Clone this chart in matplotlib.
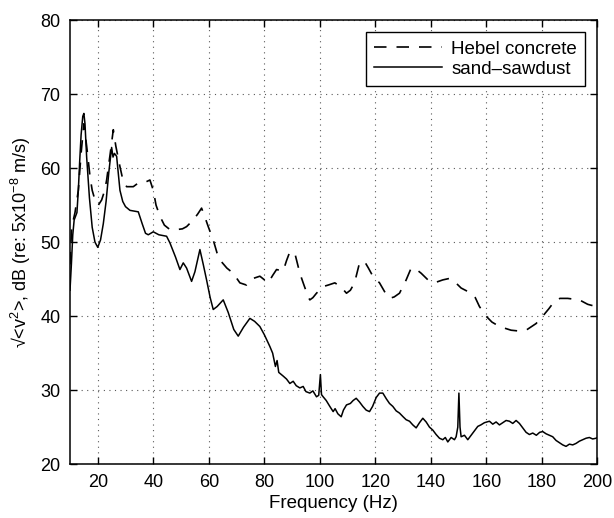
import matplotlib
matplotlib.use('Agg')
import matplotlib.pyplot as plt

# ── data ─────────────────────────────────────────────────────────────────────
sand_f = [10, 10.5, 11, 11.5, 12, 12.5, 13, 13.5, 14, 14.6, 15, 15.4, 16, 17, 18, 19,
          20, 21, 22, 23, 24, 25, 25.5, 26, 26.8, 27.5, 28, 29, 30, 31.6, 33, 34.6,
          36, 37.2, 38.2, 40, 42, 44.8, 46, 48, 49.6, 50.8, 52, 53.8, 55, 56.8, 58,
          59.2, 60.5, 61.6, 63, 65.2, 67, 69, 70.6, 72.5, 74.8, 76.5, 78.4, 80, 82,
          83, 84, 84.6, 85.2, 86.8, 88, 89.2, 90.4, 91.5, 92.8, 94, 95, 96.4, 97.5,
          98.8, 99.6, 100.2, 100.6, 101.2, 102.3, 103.6, 104.8, 105.5, 106.5, 107.7,
          108.5, 109.6, 111, 112, 113.1, 114.3, 115.5, 116.7, 117.9, 119, 120.3,
          121.5, 122.7, 124, 125.1, 126.3, 127.5, 128.7, 130, 131.1, 132.3, 133.5,
          134.7, 135.9, 137.1, 138.3, 139.5, 140.7, 141.9, 143.1, 144.3, 145.2,
          146.1, 147.3, 148.5, 149.1, 149.7, 150.1, 150.5, 150.9, 152.1, 153.3,
          154.5, 155.7, 156.9, 158, 159.3, 161.1, 162.3, 163.5, 164.7, 165.9, 167.1,
          168.3, 169.5, 170.7, 171.9, 173.1, 174.3, 175.5, 176.7, 178, 179.2, 180.3,
          181.5, 182.7, 183.9, 185.1, 186.3, 187.5, 188.7, 189.9, 191.1, 192.3,
          193.5, 194.7, 195.9, 197.1, 198.3, 199.5, 200]
sand_db = [43.5, 47, 51, 53, 53.5, 54, 57, 61, 64.5, 67, 67.4, 66, 61.5, 56, 52, 50,
           49.3, 50.3, 52.5, 55.5, 59.5, 62.8, 61.5, 62, 61.6, 59, 57, 55.5, 54.8,
           54.3, 54.2, 54.1, 52.5, 51.2, 51, 51.4, 51, 50.8, 49.9, 48, 46.3, 47.2,
           46.5, 44.7, 46, 49, 47, 44.9, 42.5, 40.9, 41.3, 42.2, 40.5, 38.2, 37.3,
           38.5, 39.7, 39.3, 38.6, 37.5, 35.9, 35, 33.2, 34, 32.4, 31.9, 31.5, 30.9,
           31.2, 30.6, 30.3, 30.5, 29.8, 29.6, 29.9, 29.1, 29.3, 32.1, 29.4, 29.1,
           28.6, 27.8, 27.1, 27.5, 26.8, 26.4, 27.3, 28, 28.2, 28.6, 28.9, 28.4,
           27.8, 27.3, 27.1, 27.8, 29, 29.6, 29.6, 28.8, 28.2, 27.8, 27.2, 26.9,
           26.4, 26, 25.8, 25.3, 24.9, 25.6, 26.2, 25.7, 25, 24.6, 24, 23.5, 23.3,
           23.6, 23, 23.6, 23.3, 23.7, 25, 29.6, 25, 23.7, 23.9, 23.3, 23.9, 24.5,
           25.1, 25.3, 25.6, 25.8, 25.4, 25.7, 25.3, 25.6, 25.9, 25.8, 25.5, 25.9,
           25.5, 24.9, 24.3, 24, 24.2, 23.9, 24.3, 24.4, 24.1, 23.9, 23.7, 23.2,
           22.9, 22.6, 22.4, 22.7, 22.6, 22.8, 23.1, 23.3, 23.5, 23.6, 23.4, 23.5,
           23.6]

hebel_f = [10, 10.6, 11.8, 13, 14, 15, 16, 17.2, 18, 19, 20.2, 21.4, 22.5, 23.2, 24.5,
           25.6, 26.5, 28, 29, 30.4, 32.8, 34.6, 36.5, 38.8, 40, 41, 42.4, 44, 46,
           48.4, 50.5, 52, 54.4, 56, 57.4, 58.5, 59.8, 61.6, 63, 64, 66.5, 68.8,
           71.2, 73.6, 76, 78.4, 81.4, 83, 84.4, 86.8, 88, 89.2, 91, 92.8, 94, 95.8,
           96.4, 97.5, 98.8, 101.2, 103, 105.4, 107.5, 109.6, 111, 112.5, 114.3,
           116.1, 117.5, 119.1, 121.5, 123.5, 125.1, 126.8, 128.7, 131.1, 132.9,
           134.5, 136.5, 139.5, 142, 144.3, 146.7, 147.9, 150.9, 154.5, 156, 157.5,
           159.9, 162, 164.7, 168.9, 171.5, 174.3, 177.9, 180.3, 182.5, 184.5,
           186.5, 189.3, 193.5, 196.5, 199.5, 200]
hebel_db = [47, 52, 54, 57, 62, 66, 63, 58.9, 57, 55.7, 55, 55.7, 57, 58.4, 62, 65.2,
            63, 60.2, 58.5, 57.5, 57.5, 58, 58, 58.4, 57, 55, 53.5, 52.3, 51.7, 51.7,
            51.8, 52.1, 53, 53.8, 54.6, 53.5, 52.1, 50.3, 48.5, 47.6, 46.5, 45.8,
            44.5, 44.2, 45.1, 45.4, 44.5, 45.5, 46.3, 46.1, 47.5, 48.7, 48.5, 45.8,
            44.5, 42.6, 42.2, 42.5, 43.1, 44, 44.2, 44.5, 44, 43.1, 43.5, 44.5, 47.2,
            47.4, 46.5, 45.4, 44.5, 43.2, 42.4, 42.6, 43.1, 44.9, 46.5, 46.4, 45.8,
            44.7, 44.6, 44.9, 45.1, 44.9, 43.8, 43.1, 42.5, 41.3, 40, 39.2, 38.6,
            38.1, 38, 38.1, 39, 40, 41, 42, 42.4, 42.4, 42.2, 41.6, 41.3, 41.3]

x_ticks = [20, 40, 60, 80, 100, 120, 140, 160, 180, 200]
y_ticks = [20, 30, 40, 50, 60, 70, 80]

plt.rcParams['font.family'] = ['Liberation Sans', 'DejaVu Sans']
plt.rcParams['mathtext.fontset'] = 'custom'
plt.rcParams['mathtext.rm'] = 'Liberation Sans'
plt.rcParams['mathtext.default'] = 'regular'

FS = 13

fig = plt.figure(figsize=(6.14, 5.18), dpi=100)
ax = fig.add_axes([0.114, 0.104, 0.859, 0.857])

ax.plot(hebel_f, hebel_db, color='black', lw=1.2, linestyle=(0, (7.5, 6)),
        label='Hebel concrete')
ax.plot(sand_f, sand_db, color='black', lw=1.1, label='sand\u2013sawdust')

ax.set_xlim(10, 200)
ax.set_ylim(20, 80)
ax.set_xticks(x_ticks)
ax.set_yticks(y_ticks)
ax.grid(True, color='0.35', linestyle=(0, (1, 4)), linewidth=0.8)
ax.tick_params(direction='in', top=True, right=True, labelsize=FS, length=5,
               width=1, pad=7, colors='black')
for spine in ax.spines.values():
    spine.set_linewidth(1.1)

ax.set_xlabel('Frequency (Hz)', fontsize=FS + 0.5, labelpad=3)
ax.set_ylabel(r'√<v$^2$>, dB (re: 5x10$^{-8}$ m/s)', fontsize=FS, labelpad=5)

leg = ax.legend(loc='upper right', fontsize=FS + 0.5, handlelength=3.6,
                fancybox=False, framealpha=1, edgecolor='black',
                borderaxespad=0.65, borderpad=0.45, labelspacing=0.15,
                handletextpad=0.5)
leg.get_frame().set_linewidth(1.0)

fig.savefig('out.png', dpi=100, facecolor='white')
